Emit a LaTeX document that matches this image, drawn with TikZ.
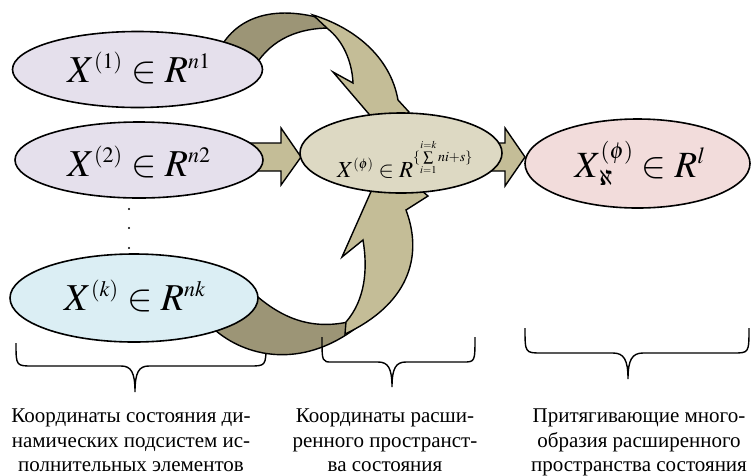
\documentclass[tikz,border=0pt]{standalone}
\usepackage{mathptmx}
\usepackage{fontspec}
\setmainfont{Liberation Serif}
\DeclareMathSizes{38}{38}{22}{16}
\DeclareMathSizes{23}{23}{14}{10.5}
\DeclareMathSizes{37}{37}{23}{16}
\usetikzlibrary{shapes.geometric}
\definecolor{lav}{HTML}{E5E0EC}
\definecolor{lblue}{HTML}{DBEEF4}
\definecolor{beige}{HTML}{DDD9C3}
\definecolor{pinkc}{HTML}{F2DCDB}
\definecolor{arlight}{HTML}{C4BD97}
\definecolor{ardark}{HTML}{9C9576}
\tikzset{
  ell/.style={ellipse, draw=black, line width=1.6pt, inner sep=0pt, outer sep=0pt},
  arw/.style={draw=black, line width=1.4pt, line join=miter},
  brace/.style={draw=black, line width=1.4pt},
  bigmath/.style={anchor=base, inner sep=0pt, font=\fontsize{38}{40}\selectfont},
  caption/.style={anchor=north, align=center, inner sep=0pt, font=\fontsize{21}{24.5}\selectfont}
}
\begin{document}
\begin{tikzpicture}[x=1pt,y=-1pt]
\useasboundingbox (0,0) rectangle (752,475);
% brace under ellipse k (behind the arrow)
\draw[brace] (16,343) .. controls (16,366) .. (33,366) -- (121,366)
  .. controls (131,366) and (135,372) .. (135,392)
  .. controls (135,372) and (139,366) .. (149,366) -- (249,366)
  .. controls (266,366) .. (266,343);
% top curved arrow
\filldraw[arw, fill=ardark] (222,45) .. controls (240,16) and (275,6) .. (320,18)
  -- (330,28) .. controls (300,28) and (272,38) .. (255,66) -- cycle;
\filldraw[arw, fill=arlight] (313,15) .. controls (352,27) and (390,55) .. (398,100)
  -- (409,112) -- (386,134) -- (333,72) -- (353,83)
  .. controls (352,60) and (342,40) .. (328,29) -- cycle;
% bottom curved arrow
\filldraw[arw, fill=ardark] (215,330) .. controls (245,356) and (300,370) .. (356,328)
  -- (348,322) .. controls (310,330) and (280,318) .. (250,290) -- cycle;
\filldraw[arw, fill=arlight] (345,334) .. controls (407,305) and (424,258) .. (406,210)
  -- (428,196) -- (385,160) -- (342,257) -- (363,240)
  .. controls (368,270) and (365,300) .. (346,322) -- cycle;
% straight arrows
\filldraw[arw, fill=arlight] (250,143) -- (281,143) -- (281,128) -- (301,157)
  -- (281,185) -- (281,171) -- (250,171) -- cycle;
\filldraw[arw, fill=arlight] (480,143) -- (505,143) -- (505,128) -- (525,157)
  -- (505,186) -- (505,171) -- (480,171) -- cycle;
% ellipses
\node[ell, fill=lav, minimum width=250pt, minimum height=76pt] (e1) at (137.5,69.5) {};
\node[ell, fill=lav, minimum width=248pt, minimum height=76pt] (e2) at (139,160) {};
\node[ell, fill=lblue, minimum width=248pt, minimum height=88pt] (ek) at (134,298) {};
\node[ell, fill=beige, minimum width=202pt, minimum height=80pt] (m) at (401,153) {};
\node[ell, fill=pinkc, minimum width=225pt, minimum height=89pt] (r) at (637.5,163.5) {};
% dots
\foreach \yy [count=\i] in {209,228,248} \fill (129,\yy) circle (1.2pt) coordinate (d\i);
% texts in ellipses
\node[bigmath] (t1) at (139,82) {$X^{(1)}\in R^{n1}$};
\node[bigmath] (t2) at (139,176) {$X^{(2)}\in R^{n2}$};
\node[bigmath] (tk) at (135,310) {$X^{(k)}\in R^{nk}$};
\node[anchor=base, inner sep=0pt, font=\fontsize{23}{25}\selectfont] (tm) at (405,177)
  {$X^{(\phi)}\in R^{\{\sum\limits_{i=1}^{i=k}ni+s\}}$};
\node[anchor=base, inner sep=0pt, font=\fontsize{37}{40}\selectfont] (tr) at (640,177) {$X^{(\phi)}_{\aleph}\in R^{l}$};
% other braces
\draw[brace] (322,337) .. controls (322,362) .. (332,362) -- (378,362)
  .. controls (388,362) and (392,368) .. (392,387)
  .. controls (392,368) and (396,362) .. (406,362) -- (463,362)
  .. controls (475,362) .. (475,337);
\draw[brace] (525,328) .. controls (525,353) .. (542,353) -- (613,353)
  .. controls (624,353) and (628,360) .. (628,379)
  .. controls (628,360) and (632,353) .. (643,353) -- (733,353)
  .. controls (749,353) .. (749,328);
% captions
\node[caption] (c1) at (131,409) {Координаты состояния ди-\\намических подсистем ис-\\полнительных элементов};
\node[caption] (c2) at (385,409) {Координаты расши-\\ренного пространст-\\ва состояния};
\node[caption] (c3) at (639,409) {Притягивающие много-\\образия расширенного\\пространства состояния};
\end{tikzpicture}
\end{document}
